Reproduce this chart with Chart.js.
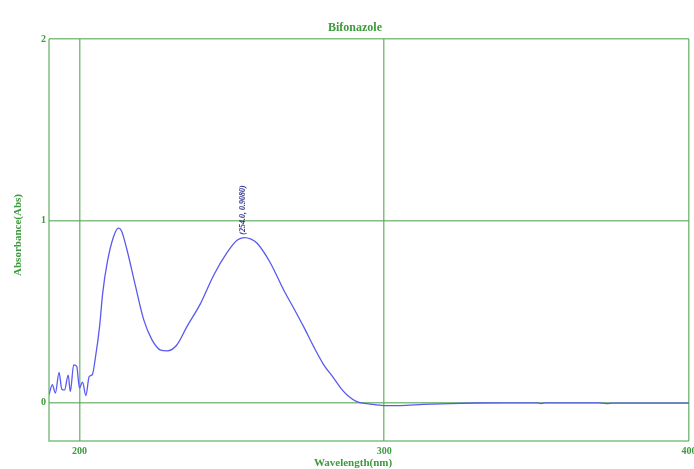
<!DOCTYPE html>
<html><head><meta charset="utf-8">
<script src="https://cdn.jsdelivr.net/npm/chart.js@4.4.1/dist/chart.umd.min.js"></script>
<style>html,body{margin:0;padding:0;background:#fff}#wrap{width:694px;height:469px}</style>
</head><body><div id="wrap"><canvas id="c"></canvas></div>
<script>
const wavelengths = [190,191.1,192.1,193.3,194.2,195.1,196.3,197.0,198.1,199.1,200,201,202.1,203.2,204.2,205.2,206.6,207.6,209.1,211.2,212.8,213.8,215.6,218.4,221.1,223.8,226.6,228.8,231.8,235.3,239.7,244.0,248.4,251.7,254.0,256.3,258.3,262.6,267,270.3,273.5,276.8,280.1,283.4,286.0,288,291,295.4,299.8,305.2,312.8,321.6,330,340,350,351.5,353,360,370,373,375,385,400];
const absorbance = [0.044,0.10,0.053,0.167,0.075,0.071,0.152,0.062,0.209,0.20,0.081,0.114,0.04,0.145,0.154,0.245,0.42,0.60,0.77,0.914,0.96,0.945,0.84,0.64,0.456,0.346,0.29,0.286,0.315,0.42,0.545,0.70,0.825,0.893,0.908,0.900,0.877,0.77,0.62,0.52,0.42,0.31,0.21,0.136,0.075,0.04,0.006,-0.007,-0.015,-0.015,-0.009,-0.004,-0.001,0,0,-0.004,0,0,0,-0.004,-0.002,-0.002,-0.002];
const xTicks = [200,300,400];
const yTicks = [0,1,2];
const chartTitle = "Bifonazole";
const xTitle = "Wavelength(nm)";
const yTitle = "Absorbance(Abs)";
const peakLabel = "(254.0, 0.9080)";
const peakPoint = {x:254.0, y:0.908};

const GREEN_TXT = '#3d9a3d';
const GRID = 'rgba(90,170,90,0.75)';

const textPlugin = {
  id:'texts',
  afterDraw(chart){
    const {ctx, chartArea:a, scales:{x,y}} = chart;
    ctx.save();
    ctx.strokeStyle = GRID; ctx.lineWidth = 1.5;
    ctx.beginPath();
    ctx.moveTo(a.left, a.top); ctx.lineTo(a.left, a.bottom); ctx.lineTo(a.right, a.bottom);
    ctx.stroke();
    ctx.fillStyle = GREEN_TXT;
    ctx.font = 'bold 12px "Liberation Serif", serif';
    ctx.textAlign = 'center'; ctx.textBaseline = 'alphabetic';
    ctx.fillText(chartTitle, 355, 31);
    ctx.font = 'bold 11px "Liberation Serif", serif';
    ctx.fillText(xTitle, 353, 466);
    ctx.translate(21, 235); ctx.rotate(-Math.PI/2);
    ctx.fillText(yTitle, 0, 0);
    ctx.restore();
    ctx.save();
    const px = x.getPixelForValue(peakPoint.x), py = y.getPixelForValue(peakPoint.y);
    ctx.translate(px - 1, py - 3); ctx.rotate(-Math.PI/2);
    ctx.fillStyle = '#2a2a8a';
    ctx.font = 'italic bold 8px "Liberation Serif", serif';
    ctx.textAlign = 'left'; ctx.textBaseline = 'middle';
    ctx.fillText(peakLabel, 0, 0);
    ctx.restore();
  }
};

new Chart(document.getElementById('c'), {
  type:'line',
  data:{datasets:[{
    data: wavelengths.map((w,i)=>({x:w, y:absorbance[i]})),
    borderColor:'#5a5af0', borderWidth:1.3, pointRadius:0,
    cubicInterpolationMode:'monotone', fill:false
  }]},
  options:{
    responsive:true, maintainAspectRatio:false, animation:false,
    devicePixelRatio:1,
    layout:{padding:{top:39, right:5, left:0, bottom:0}},
    plugins:{legend:{display:false}, tooltip:{enabled:false}, title:{display:false}},
    scales:{
      x:{type:'linear', min:190, max:400,
        afterBuildTicks(s){ s.ticks = xTicks.map(v=>({value:v})); },
        afterFit(s){ s.height = 28; s.paddingRight = 0; s.paddingLeft = 0; },
        grid:{color:GRID, lineWidth:1.5, drawTicks:false},
        border:{display:false},
        ticks:{color:GREEN_TXT, padding:4, maxRotation:0, autoSkip:false,
          font:{family:'"Liberation Serif", serif', size:10, weight:'bold'}}
      },
      y:{type:'linear', min:-0.21, max:2,
        afterBuildTicks(s){ s.ticks = yTicks.map(v=>({value:v})); },
        afterFit(s){ s.width = 49; s.paddingTop = 0; s.paddingBottom = 0; },
        grid:{color:GRID, lineWidth:1.5, drawTicks:false},
        border:{display:false},
        ticks:{color:GREEN_TXT, padding:3, autoSkip:false,
          font:{family:'"Liberation Serif", serif', size:10, weight:'bold'}}
      }
    }
  },
  plugins:[textPlugin]
});
</script></body></html>
